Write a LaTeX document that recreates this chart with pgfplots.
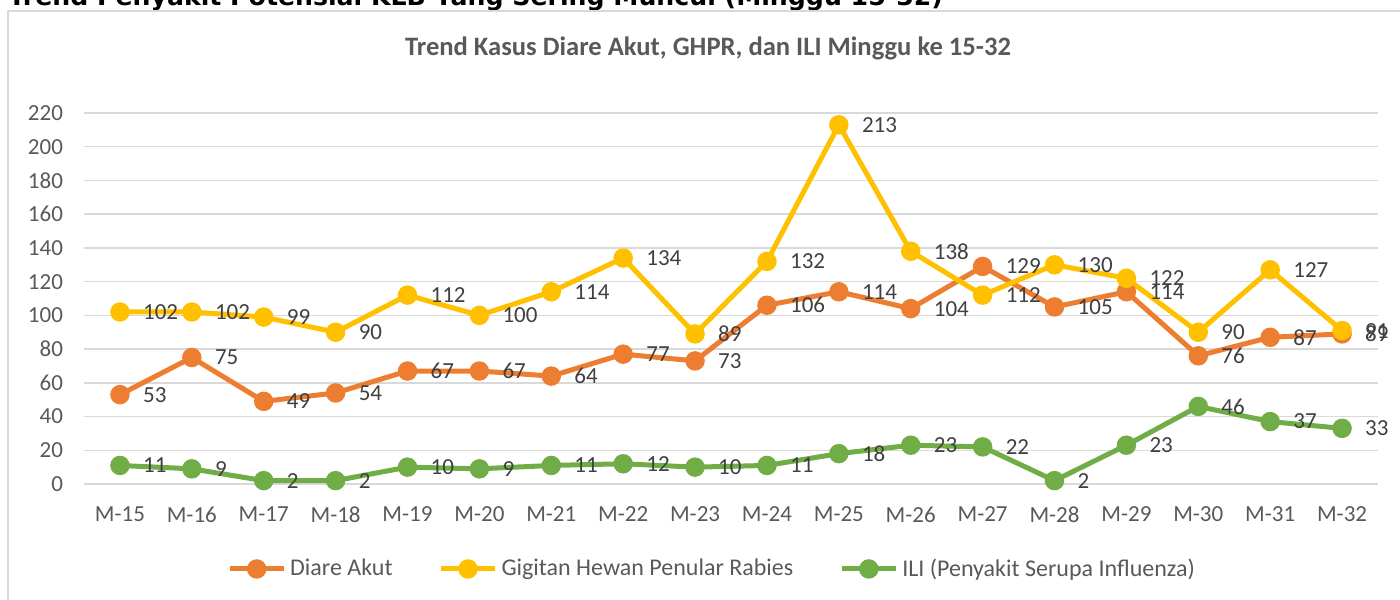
\documentclass[border=0pt]{standalone}
\usepackage{pgfplots}
\pgfplotsset{compat=1.18}
\usepackage{fontspec}
\setmainfont{Carlito}
\newfontfamily\headfont{DejaVu Sans}
\definecolor{cOr}{HTML}{ED7D31}
\definecolor{cYe}{HTML}{FFC000}
\definecolor{cGr}{HTML}{70AD47}
\definecolor{txt}{HTML}{595959}
\definecolor{lbl}{HTML}{404040}
\definecolor{grd}{HTML}{D9D9D9}
\begin{document}
\begin{tikzpicture}
\useasboundingbox (0,0) rectangle (700pt,299.5pt);
\node[anchor=base west, inner sep=0pt, font=\headfont\bfseries\fontsize{12.6}{14}\selectfont] at (4pt,296.5pt) {Trend Penyakit Potensial KLB Yang Sering Muncul (Minggu 15-32)};
\draw[grd, line width=0.9pt] (4pt,-5pt) -- (4pt,294pt) -- (710pt,294pt);
\node[font=\bfseries\fontsize{13.3}{15}\selectfont, text=txt] at (354pt,275.5pt) {Trend Kasus Diare Akut, GHPR, dan ILI Minggu ke 15-32};
\begin{axis}[
  at={(42pt,57.5pt)}, anchor=south west,
  scale only axis, width=647pt, height=185.5pt,
  xmin=14.5, xmax=32.5, ymin=0, ymax=220,
  xtick={15,...,32},
  xticklabels={M-15,M-16,M-17,M-18,M-19,M-20,M-21,M-22,M-23,M-24,M-25,M-26,M-27,M-28,M-29,M-30,M-31,M-32},
  ytick={0,20,...,220},
  ymajorgrids, grid style={grd, line width=0.75pt},
  axis line style={draw=none},
  major tick length=0pt,
  tick label style={font=\fontsize{11.5}{13}\selectfont, text=txt},
  /pgf/number format/assume math mode=true,
  yticklabel style={xshift=-7pt},
  xticklabel style={yshift=-8pt},
  clip=false,
  every axis plot/.append style={line width=2.5pt, mark=*, mark size=3.6pt},
  nodes near coords,
  every node near coord/.append style={anchor=west, xshift=7pt, font=\fontsize{11.5}{13}\selectfont, text=lbl},
  legend columns=3,
  legend style={at={(0.5,-0.229)}, anchor=center, xshift=-9pt, draw=none, fill=none,
    font=\fontsize{12}{14}\selectfont, text=txt,
    /tikz/every even column/.append style={column sep=21pt},
    cells={anchor=west}},
  legend image code/.code={\draw[line width=2.5pt, mark size=3.6pt, mark repeat=2, mark phase=2] plot coordinates {(0pt,0pt) (13.5pt,0pt) (27pt,0pt)};},
]
\addplot[color=cOr, mark options={fill=cOr, draw=cOr}] coordinates {
(15,53)(16,75)(17,49)(18,54)(19,67)(20,67)(21,64)(22,77)(23,73)(24,106)(25,114)(26,104)(27,129)(28,105)(29,114)(30,76)(31,87)(32,89)};
\addlegendentry{Diare Akut}
\addplot[color=cYe, mark options={fill=cYe, draw=cYe}] coordinates {
(15,102)(16,102)(17,99)(18,90)(19,112)(20,100)(21,114)(22,134)(23,89)(24,132)(25,213)(26,138)(27,112)(28,130)(29,122)(30,90)(31,127)(32,91)};
\addlegendentry{Gigitan Hewan Penular Rabies}
\addplot[color=cGr, mark options={fill=cGr, draw=cGr}] coordinates {
(15,11)(16,9)(17,2)(18,2)(19,10)(20,9)(21,11)(22,12)(23,10)(24,11)(25,18)(26,23)(27,22)(28,2)(29,23)(30,46)(31,37)(32,33)};
\addlegendentry{ILI (Penyakit Serupa Influenza)}
\end{axis}
\end{tikzpicture}
\end{document}
